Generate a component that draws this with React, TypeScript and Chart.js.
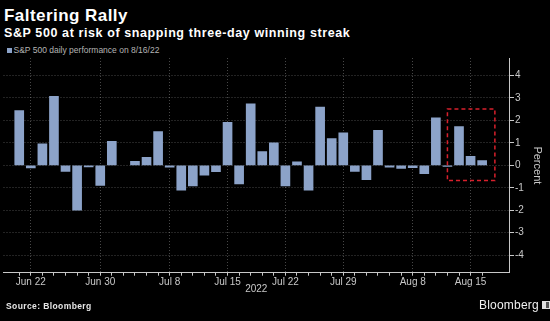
import React, { useEffect, useRef } from 'react';
import { Chart, registerables } from 'chart.js';

Chart.register(...registerables);

// Trading-day slots (weekdays); Jul 4 is a market holiday with no value
const days = [
  'Jun 21', 'Jun 22', 'Jun 23', 'Jun 24', 'Jun 27', 'Jun 28', 'Jun 29', 'Jun 30', 'Jul 1', 'Jul 4',
  'Jul 5', 'Jul 6', 'Jul 7', 'Jul 8', 'Jul 11', 'Jul 12', 'Jul 13', 'Jul 14', 'Jul 15',
  'Jul 18', 'Jul 19', 'Jul 20', 'Jul 21', 'Jul 22', 'Jul 25', 'Jul 26', 'Jul 27', 'Jul 28', 'Jul 29',
  'Aug 1', 'Aug 2', 'Aug 3', 'Aug 4', 'Aug 5', 'Aug 8', 'Aug 9', 'Aug 10', 'Aug 11', 'Aug 12',
  'Aug 15', 'Aug 16',
];

// S&P 500 daily performance, percent
const dailyChange: (number | null)[] = [
  2.44, -0.11, 0.96, 3.07, -0.27, -2.0, -0.07, -0.89, 1.07, null,
  0.18, 0.36, 1.5, -0.08, -1.11, -0.92, -0.44, -0.28, 1.91,
  -0.83, 2.74, 0.61, 1.0, -0.92, 0.16, -1.11, 2.59, 1.19, 1.45,
  -0.27, -0.64, 1.56, -0.08, -0.14, -0.1, -0.37, 2.12, -0.05, 1.73,
  0.4, 0.21,
];

const labeledDays = ['Jun 22', 'Jun 30', 'Jul 8', 'Jul 15', 'Jul 22', 'Jul 29', 'Aug 8', 'Aug 15'];
const yTicks = [-4, -3, -2, -1, 0, 1, 2, 3, 4];

// Highlight box (slot range and value range)
const highlightSlots = [37, 41.1];
const highlightValues = [-0.68, 2.51];

const xRange = [-1.36, 42.32];
const yRange = [-4.78, 4.78];

const FONT = 'Arial, "Liberation Sans", sans-serif';
const BAR = '#8ca3c9';
const GRID = 'rgba(255,255,255,0.28)';
const AXIS = '#c8c8c8';

const highlightPlugin = {
  id: 'highlightBox',
  afterDatasetsDraw(chart: any) {
    const { ctx, scales } = chart;
    const x = scales.x;
    const y = scales.y;
    const l = x.getPixelForValue(highlightSlots[0]);
    const r = x.getPixelForValue(highlightSlots[1]);
    const t = y.getPixelForValue(highlightValues[1]);
    const b = y.getPixelForValue(highlightValues[0]);
    ctx.save();
    ctx.strokeStyle = '#d8202c';
    ctx.lineWidth = 1.5;
    ctx.setLineDash([4, 3]);
    ctx.strokeRect(l, t, r - l, b - t);
    ctx.restore();
  },
};

export default function App() {
  const ref = useRef<HTMLCanvasElement>(null);

  useEffect(() => {
    document.body.style.margin = '0';
    document.body.style.background = '#000';
    const points = dailyChange
      .map((v, i) => (v === null ? null : { x: i, y: v }))
      .filter((p) => p !== null);
    const labeledIdx = labeledDays.map((d) => days.indexOf(d));

    const chart = new Chart(ref.current!, {
      type: 'bar',
      data: {
        datasets: [
          {
            label: 'S&P 500 daily performance on 8/16/22',
            data: points as any,
            backgroundColor: BAR,
            borderWidth: 0,
            barThickness: 9,
          },
        ],
      },
      options: {
        animation: false,
        responsive: false,
        maintainAspectRatio: false,
        layout: { padding: { left: 3.5, top: 58, right: 0, bottom: 0 } },
        plugins: {
          legend: { display: false },
          tooltip: { enabled: false },
          title: { display: false },
        },
        scales: {
          x: {
            type: 'linear',
            min: xRange[0],
            max: xRange[1],
            offset: false,
            afterBuildTicks: (scale: any) => {
              scale.ticks = days.map((_, i) => ({ value: i }));
            },
            afterFit: (scale: any) => {
              scale.height = 48.3;
            },
            ticks: {
              autoSkip: false,
              maxRotation: 0,
              minRotation: 0,
              padding: 1,
              color: AXIS,
              font: { family: FONT, size: 10 },
              callback: (v: any) => (labeledIdx.includes(v) ? days[v] : ''),
            },
            grid: {
              offset: false,
              color: (ctx: any) =>
                ctx.tick && labeledIdx.includes(ctx.tick.value) ? GRID : 'rgba(0,0,0,0)',
              lineWidth: 1,
              drawTicks: true,
              tickLength: 3,
              tickColor: AXIS,
              tickWidth: 1,
            },
            border: { display: true, color: AXIS, width: 1, dash: [1, 2] },
            title: {
              display: true,
              text: '2022',
              color: AXIS,
              font: { family: FONT, size: 10 },
              padding: { top: 0, bottom: 26 },
            },
          },
          y: {
            type: 'linear',
            position: 'right',
            min: yRange[0],
            max: yRange[1],
            afterBuildTicks: (scale: any) => {
              scale.ticks = yTicks.map((v) => ({ value: v }));
            },
            afterFit: (scale: any) => {
              scale.width = 41;
            },
            ticks: {
              padding: 1,
              color: AXIS,
              font: { family: FONT, size: 10 },
              callback: (v: any) => String(v),
            },
            grid: {
              color: GRID,
              lineWidth: 1,
              drawTicks: true,
              tickLength: 5,
              tickColor: AXIS,
              tickWidth: 1,
            },
            border: { display: true, color: AXIS, width: 1, dash: [1, 2] },
            title: {
              display: true,
              text: 'Percent',
              color: AXIS,
              font: { family: FONT, size: 11 },
              padding: { top: 6.4, bottom: 0 },
            },
          },
        },
      },
      plugins: [highlightPlugin],
    });
    return () => chart.destroy();
  }, []);

  return (
    <div
      style={{
        position: 'relative',
        width: 550,
        height: 321,
        background: '#000',
        overflow: 'hidden',
        fontFamily: FONT,
      }}
    >
      <div
        style={{
          position: 'absolute',
          left: 4,
          top: 7,
          fontSize: 17,
          letterSpacing: '0.45px',
          lineHeight: '17px',
          fontWeight: 'bold',
          color: '#fff',
          whiteSpace: 'nowrap',
        }}
      >
        Faltering Rally
      </div>
      <div
        style={{
          position: 'absolute',
          left: 4,
          top: 27,
          fontSize: 12.5,
          letterSpacing: '0.6px',
          lineHeight: '13px',
          fontWeight: 'bold',
          color: '#fff',
          whiteSpace: 'nowrap',
        }}
      >
        S&amp;P 500 at risk of snapping three-day winning streak
      </div>
      <div
        style={{
          position: 'absolute',
          left: 7,
          top: 45,
          display: 'flex',
          alignItems: 'center',
          fontSize: 8.5,
          lineHeight: '10px',
          color: '#b4b4b4',
          whiteSpace: 'nowrap',
        }}
      >
        <span
          style={{ display: 'inline-block', width: 5, height: 5, background: BAR, marginRight: 1.5 }}
        />
        S&amp;P 500 daily performance on 8/16/22
      </div>
      <canvas
        ref={ref}
        width={550}
        height={321}
        style={{ position: 'absolute', left: 0, top: 0, width: 550, height: 321 }}
      />
      <div
        style={{
          position: 'absolute',
          left: 6,
          top: 301,
          fontSize: 8.5,
          letterSpacing: '0.4px',
          lineHeight: '10px',
          fontWeight: 'bold',
          color: '#e6e6e6',
          whiteSpace: 'nowrap',
        }}
      >
        Source: Bloomberg
      </div>
      <div
        style={{
          position: 'absolute',
          left: 479,
          top: 298.5,
          display: 'flex',
          alignItems: 'center',
          fontSize: 12,
          letterSpacing: '0.2px',
          lineHeight: '13px',
          color: '#f0f0f0',
          whiteSpace: 'nowrap',
        }}
      >
        Bloomberg
        <span
          style={{
            display: 'inline-block',
            width: 6,
            height: 6,
            marginLeft: 3,
            border: '1px solid #e0e0e0',
            background: 'linear-gradient(90deg, #e0e0e0 50%, #555 50%)',
          }}
        />
      </div>
    </div>
  );
}
